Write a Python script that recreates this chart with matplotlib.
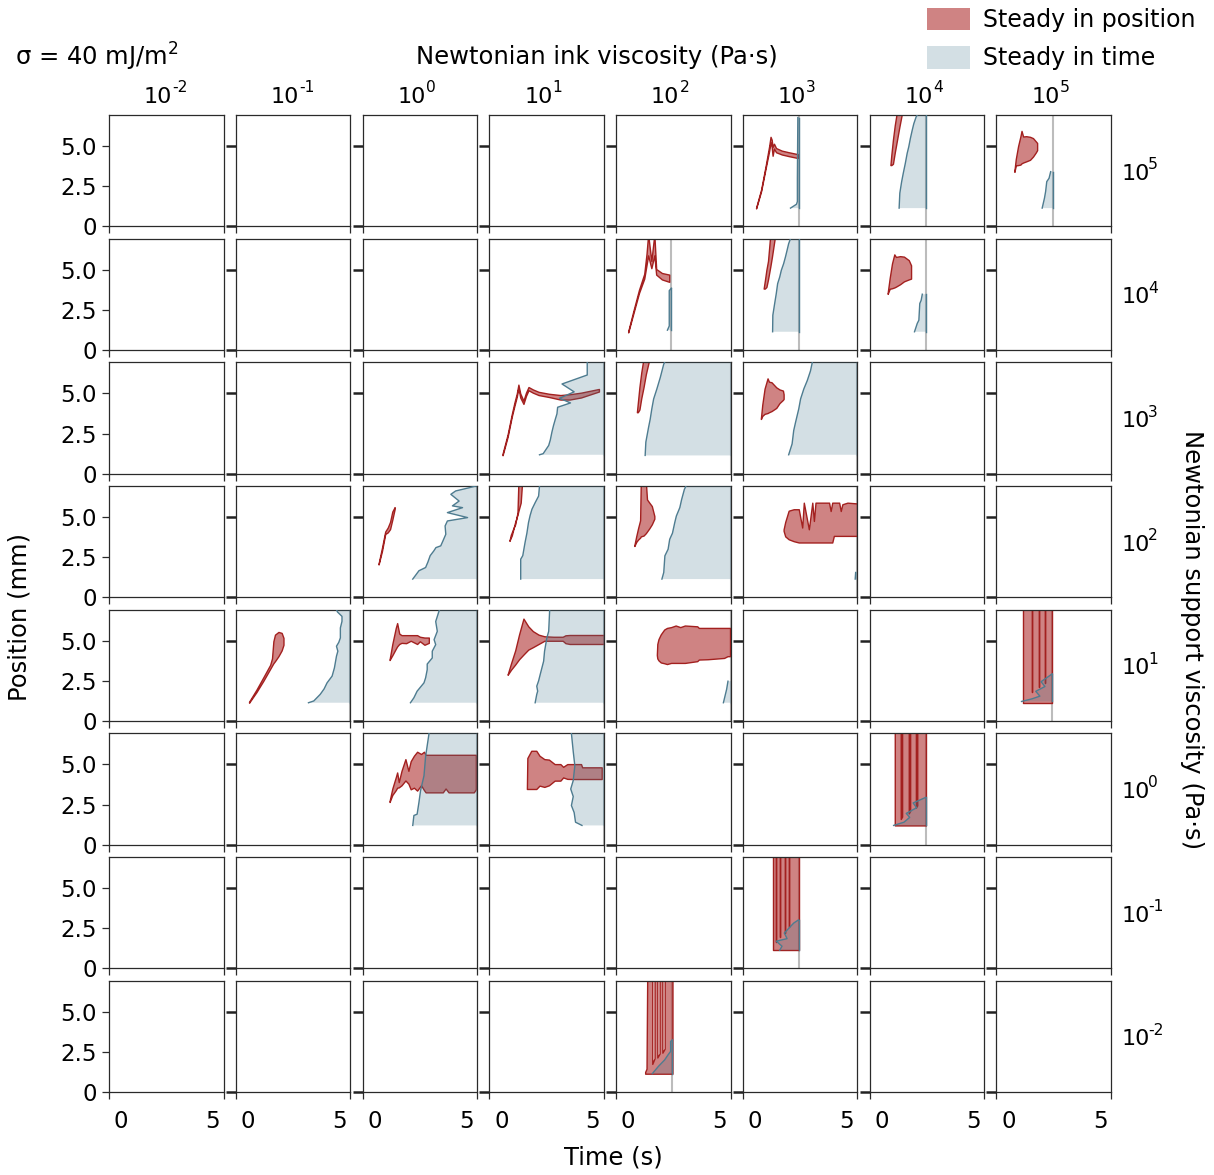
import numpy as np
import matplotlib
matplotlib.use('Agg')
import matplotlib.pyplot as plt
from matplotlib.patches import Rectangle
import matplotlib.transforms as mtransforms

plt.rcParams['font.family'] = ['DejaVu Sans']

# ---------------- axes / labels ----------------
ink_exponents = [-2, -1, 0, 1, 2, 3, 4, 5]          # columns
support_exponents = [5, 4, 3, 2, 1, 0, -1, -2]      # rows (top -> bottom)
x_ticks = [0, 5]
x_tick_labels = ['0', '5']
y_ticks = [0, 2.5, 5.0]
y_tick_labels = ['0', '2.5', '5.0']
y_max = 6.94
legend_labels = ['Steady in position', 'Steady in time']

# ---------------- data (support exponent s, ink exponent i) ----------------
# "Steady in position" regions: time, lower and upper position (mm)
pos_s5_i3_t = [0.58, 0.80, 1.00, 1.15, 1.21, 1.26, 1.30, 1.36, 1.45, 1.70, 2.00, 2.40]
pos_s5_i3_lo = [1.12, 2.20, 3.65, 4.70, 5.25, 4.95, 4.40, 4.85, 4.62, 4.48, 4.38, 4.26]
pos_s5_i3_hi = [1.16, 2.30, 3.80, 5.00, 5.58, 5.40, 4.95, 5.15, 4.88, 4.72, 4.62, 4.50]

pos_s5_i4_t = [0.91, 0.95, 1.02, 1.10, 1.20, 1.30, 1.40]
pos_s5_i4_lo = [3.82, 3.82, 3.90, 4.60, 5.40, 6.20, 6.94]
pos_s5_i4_hi = [3.82, 4.45, 5.40, 6.30, 7.20, 7.20, 7.20]

pos_s5_i5_t = [0.79, 0.85, 0.95, 1.05, 1.10, 1.17, 1.30, 1.47, 1.60, 1.72, 1.78]
pos_s5_i5_lo = [3.40, 3.80, 3.82, 3.85, 3.93, 3.98, 4.05, 4.15, 4.35, 4.60, 4.75]
pos_s5_i5_hi = [3.45, 4.20, 5.00, 5.60, 5.95, 5.60, 5.62, 5.58, 5.50, 5.30, 5.20]

pos_s4_i2_t = [0.53, 0.75, 1.00, 1.23, 1.33, 1.40, 1.54, 1.67, 1.75, 2.00, 2.32]
pos_s4_i2_lo = [1.10, 2.25, 3.55, 4.45, 5.30, 5.90, 5.10, 5.90, 4.70, 4.40, 4.25]
pos_s4_i2_hi = [1.16, 2.40, 3.75, 4.75, 6.00, 7.20, 5.55, 7.20, 5.05, 4.80, 4.70]

pos_s4_i3_t = [0.91, 0.96, 1.03, 1.10, 1.20, 1.27, 1.39]
pos_s4_i3_lo = [3.83, 3.83, 3.93, 4.40, 5.20, 5.80, 6.94]
pos_s4_i3_hi = [3.83, 4.30, 5.00, 5.55, 7.20, 7.20, 7.20]

pos_s4_i4_t = [0.79, 0.88, 0.98, 1.08, 1.15, 1.33, 1.50, 1.71, 1.81]
pos_s4_i4_lo = [3.50, 3.82, 3.85, 3.90, 3.95, 4.10, 4.28, 4.40, 4.45]
pos_s4_i4_hi = [3.55, 4.50, 5.40, 5.96, 5.80, 5.85, 5.82, 5.60, 5.28]

pos_s3_i1_t = [0.58, 0.80, 0.98, 1.10, 1.20, 1.27, 1.35, 1.49, 1.60, 1.71, 1.90, 2.15, 2.60, 3.10, 3.50, 4.00, 4.78]
pos_s3_i1_lo = [1.15, 2.30, 3.55, 4.25, 4.80, 5.35, 4.75, 4.35, 4.85, 5.20, 5.05, 4.90, 4.78, 4.62, 4.62, 4.75, 5.12]
pos_s3_i1_hi = [1.25, 2.45, 3.70, 4.45, 5.00, 5.55, 5.00, 4.55, 5.05, 5.40, 5.25, 5.10, 4.98, 4.90, 4.95, 5.05, 5.28]

pos_s3_i2_t = [0.91, 0.95, 1.02, 1.10, 1.20, 1.30, 1.42]
pos_s3_i2_lo = [3.83, 3.83, 4.00, 4.70, 5.40, 6.20, 6.94]
pos_s3_i2_hi = [3.83, 4.40, 5.40, 6.30, 7.20, 7.20, 7.20]

pos_s3_i3_t = [0.79, 0.85, 0.95, 1.08, 1.14, 1.25, 1.46, 1.60, 1.75, 1.78]
pos_s3_i3_lo = [3.41, 3.60, 3.73, 3.78, 3.83, 3.90, 4.10, 4.40, 4.60, 4.66]
pos_s3_i3_hi = [3.45, 4.30, 5.30, 5.94, 5.73, 5.70, 5.38, 5.25, 5.18, 4.95]

pos_s2_i0_t = [0.70, 0.85, 0.99, 1.10, 1.20, 1.30, 1.40]
pos_s2_i0_lo = [2.05, 2.90, 3.95, 4.05, 4.25, 4.85, 5.50]
pos_s2_i0_hi = [2.10, 3.10, 4.10, 4.35, 4.70, 5.35, 5.62]

pos_s2_i1_t = [0.88, 0.94, 0.98, 1.05, 1.13, 1.17, 1.23, 1.27, 1.37, 1.42]
pos_s2_i1_lo = [3.52, 3.73, 3.85, 4.25, 4.70, 4.87, 5.15, 5.38, 5.90, 6.94]
pos_s2_i1_hi = [3.52, 3.90, 4.04, 4.30, 4.55, 4.85, 5.28, 7.20, 7.20, 7.20]

pos_s2_i2_t = [0.80, 0.88, 0.96, 1.05, 1.08, 1.20, 1.30, 1.35, 1.45, 1.56, 1.67]
pos_s2_i2_lo = [3.20, 3.45, 3.60, 3.72, 3.80, 3.85, 4.00, 4.10, 4.30, 4.55, 4.90]
pos_s2_i2_hi = [3.25, 3.80, 4.30, 4.80, 7.20, 7.20, 7.20, 6.10, 5.90, 5.69, 5.07]

pos_s2_i3_t = [1.78, 1.85, 2.00, 2.22, 2.44, 2.59, 2.66, 2.88, 3.03, 3.10, 3.17, 3.39, 3.76, 3.83, 3.90, 3.97, 4.20, 4.27, 4.34, 4.56, 5.00]
pos_s2_i3_lo = [4.14, 3.80, 3.62, 3.50, 3.42, 3.42, 3.42, 3.42, 3.42, 3.42, 3.42, 3.42, 3.42, 3.42, 3.42, 3.83, 3.83, 3.83, 3.83, 3.83, 3.83]
pos_s2_i3_hi = [4.24, 4.70, 5.40, 5.49, 5.49, 4.35, 5.90, 4.24, 5.90, 4.76, 5.90, 5.90, 5.90, 5.38, 5.90, 5.90, 5.90, 5.38, 5.80, 5.90, 5.85]

pos_s1_im1_t = [0.58, 0.90, 1.20, 1.50, 1.58, 1.64, 1.71, 1.86, 2.00, 2.08]
pos_s1_im1_lo = [1.14, 1.80, 2.50, 3.25, 3.45, 3.60, 3.73, 4.04, 4.40, 4.75]
pos_s1_im1_hi = [1.20, 1.95, 2.72, 3.50, 3.90, 4.97, 5.38, 5.55, 5.49, 5.18]

pos_s1_i0_t = [1.18, 1.30, 1.45, 1.51, 1.60, 1.70, 1.90, 2.10, 2.38, 2.50, 2.70, 2.89]
pos_s1_i0_lo = [3.80, 4.10, 4.50, 4.65, 4.80, 4.87, 4.85, 5.00, 4.80, 4.97, 4.75, 4.87]
pos_s1_i0_hi = [3.83, 4.80, 5.80, 6.10, 5.45, 5.35, 5.35, 5.35, 5.35, 5.25, 5.20, 5.20]

pos_s1_i1_t = [0.80, 0.95, 1.13, 1.30, 1.49, 1.70, 1.90, 2.15, 2.40, 2.80, 3.20, 3.32, 3.50, 4.00, 4.50, 5.00]
pos_s1_i1_lo = [2.88, 3.20, 3.52, 3.85, 4.14, 4.45, 4.60, 4.80, 5.00, 5.00, 5.00, 4.85, 4.80, 4.80, 4.80, 4.80]
pos_s1_i1_hi = [2.90, 3.60, 4.40, 5.40, 6.38, 5.90, 5.60, 5.38, 5.28, 5.25, 5.25, 5.34, 5.36, 5.36, 5.36, 5.36]

pos_s1_i2_t = [1.78, 1.80, 1.85, 1.95, 2.10, 2.22, 2.40, 2.60, 2.80, 3.00, 3.54, 3.61, 4.00, 4.71, 4.86, 4.97]
pos_s1_i2_lo = [4.10, 3.90, 3.78, 3.65, 3.60, 3.55, 3.62, 3.62, 3.62, 3.62, 3.73, 3.83, 3.85, 3.93, 4.04, 4.04]
pos_s1_i2_hi = [4.14, 4.80, 5.10, 5.40, 5.70, 5.80, 5.85, 5.95, 5.85, 5.95, 5.90, 5.80, 5.80, 5.80, 5.80, 5.80]

pos_s1_i5_t = [1.17, 1.55, 1.55, 1.55, 1.86, 1.86, 1.86, 2.14, 2.14, 2.14, 2.44]
pos_s1_i5_lo = [1.14, 1.14, 1.14, 1.14, 1.14, 1.14, 1.14, 1.14, 1.14, 1.14, 1.14]
pos_s1_i5_hi = [7.20, 7.20, 1.80, 7.20, 7.20, 2.10, 7.20, 7.20, 2.36, 7.20, 7.20]

pos_s0_i0_t = [1.18, 1.30, 1.45, 1.51, 1.58, 1.70, 1.87, 2.00, 2.10, 2.24, 2.38, 2.55, 2.68, 2.75, 3.00, 3.50, 3.62, 3.75, 4.50, 4.85, 4.94]
pos_s0_i0_lo = [2.66, 3.10, 3.40, 3.55, 3.57, 3.70, 4.00, 3.80, 3.45, 3.55, 3.37, 3.70, 3.40, 3.26, 3.26, 3.26, 3.50, 3.26, 3.26, 3.26, 3.45]
pos_s0_i0_hi = [2.72, 3.50, 4.20, 4.50, 3.90, 4.60, 5.33, 4.60, 5.20, 5.54, 5.79, 5.65, 5.79, 5.60, 5.60, 5.60, 5.60, 5.60, 5.60, 5.60, 5.60]

pos_s0_i1_t = [1.64, 1.66, 1.83, 2.05, 2.19, 2.40, 2.60, 2.85, 3.10, 3.22, 3.40, 3.65, 4.00, 4.05, 4.90]
pos_s0_i1_lo = [3.47, 3.47, 3.47, 3.47, 3.68, 3.60, 3.70, 3.99, 3.99, 4.19, 4.10, 4.09, 4.09, 4.09, 4.09]
pos_s0_i1_hi = [3.47, 5.40, 5.85, 5.85, 5.54, 5.33, 5.30, 5.02, 5.02, 4.85, 5.02, 5.02, 5.02, 4.82, 4.82]

pos_s0_i4_t = [1.10, 1.36, 1.36, 1.42, 1.42, 1.71, 1.71, 1.77, 1.77, 2.02, 2.02, 2.08, 2.08, 2.46]
pos_s0_i4_lo = [1.20, 1.20, 1.20, 1.20, 1.20, 1.20, 1.20, 1.20, 1.20, 1.20, 1.20, 1.20, 1.20, 1.20]
pos_s0_i4_hi = [7.20, 7.20, 1.60, 1.75, 7.20, 7.20, 1.95, 2.10, 7.20, 7.20, 2.30, 2.45, 7.20, 7.20]

pos_sm1_i3_t = [1.30, 1.46, 1.46, 1.46, 1.64, 1.64, 1.64, 1.83, 1.83, 1.83, 2.02, 2.02, 2.02, 2.47]
pos_sm1_i3_lo = [1.14, 1.14, 1.14, 1.14, 1.14, 1.14, 1.14, 1.14, 1.14, 1.14, 1.14, 1.14, 1.14, 1.14]
pos_sm1_i3_hi = [7.20, 7.20, 1.65, 7.20, 7.20, 1.95, 7.20, 7.20, 2.20, 7.20, 7.20, 2.60, 7.20, 7.20]

pos_sm2_i2_t = [1.27, 1.33, 1.36, 1.58, 1.58, 1.68, 1.68, 1.80, 1.80, 1.90, 1.90, 2.02, 2.02, 2.12, 2.12, 2.46]
pos_sm2_i2_lo = [1.14, 1.14, 1.14, 1.14, 1.14, 1.14, 1.14, 1.14, 1.14, 1.14, 1.14, 1.14, 1.14, 1.14, 1.14, 1.14]
pos_sm2_i2_hi = [1.25, 1.45, 7.20, 7.20, 1.75, 2.10, 7.20, 7.20, 2.15, 2.40, 7.20, 7.20, 2.45, 2.70, 7.20, 7.20]

# "Steady in time" regions: position (mm) and left boundary time (s)
time_s5_i3_y = [1.14, 1.38, 1.55, 3.00, 6.78]
time_s5_i3_t = [2.08, 2.34, 2.38, 2.38, 2.40]
time_s5_i4_y = [1.14, 2.07, 2.79, 3.31, 3.93, 4.55, 4.96, 5.48, 5.99, 6.40, 6.82, 6.94]
time_s5_i4_t = [1.29, 1.32, 1.40, 1.47, 1.56, 1.64, 1.71, 1.78, 1.86, 1.93, 2.03, 2.08]
time_s5_i5_y = [1.14, 1.76, 2.17, 2.79, 3.00, 3.41]
time_s5_i5_t = [2.00, 2.10, 2.15, 2.20, 2.30, 2.37]
time_s4_i2_y = [1.24, 1.50, 3.70, 3.85]
time_s4_i2_t = [2.24, 2.32, 2.32, 2.41]
time_s4_i3_y = [1.14, 2.17, 2.90, 3.52, 4.14, 4.55, 4.97, 5.38, 5.80, 6.21, 6.63, 6.94]
time_s4_i3_t = [1.30, 1.31, 1.39, 1.46, 1.52, 1.61, 1.68, 1.78, 1.86, 1.93, 2.00, 2.08]
time_s4_i4_y = [1.14, 1.66, 1.86, 2.90, 3.10, 3.48]
time_s4_i4_t = [1.96, 2.08, 2.15, 2.19, 2.25, 2.30]
time_s3_i1_y = [1.18, 1.25, 1.76, 2.10, 2.59, 3.00, 3.40, 3.73, 4.14, 4.41, 4.70, 5.10, 5.59, 6.15, 6.94]
time_s3_i1_t = [2.19, 2.35, 2.59, 2.66, 2.73, 2.80, 2.88, 2.95, 2.98, 3.54, 3.06, 3.70, 3.17, 4.27, 4.27]
time_s3_i2_y = [1.14, 1.97, 2.90, 3.40, 4.04, 4.66, 5.28, 6.00, 6.83, 6.94]
time_s3_i2_t = [1.27, 1.30, 1.42, 1.49, 1.56, 1.64, 1.78, 1.93, 2.08, 2.12]
time_s3_i3_y = [1.18, 1.86, 2.69, 3.20, 4.04, 4.66, 5.28, 5.80, 6.40, 6.94]
time_s3_i3_t = [2.00, 2.15, 2.22, 2.30, 2.44, 2.52, 2.66, 2.81, 2.95, 3.03]
time_s2_i0_y = [1.14, 1.66, 1.86, 2.20, 2.60, 2.90, 3.10, 3.21, 3.50, 3.93, 4.45, 4.76, 4.97, 5.28, 5.59, 5.70, 6.00, 6.42, 6.63, 6.83, 6.94]
time_s2_i0_t = [2.19, 2.46, 2.75, 2.85, 2.95, 3.11, 3.20, 3.41, 3.50, 3.63, 3.60, 3.70, 4.58, 3.70, 4.36, 3.92, 4.21, 3.85, 4.06, 4.65, 4.94]
time_s2_i1_y = [1.14, 2.38, 2.60, 3.42, 4.00, 4.66, 5.10, 5.49, 5.90, 6.31, 6.94]
time_s2_i1_t = [1.37, 1.37, 1.46, 1.56, 1.64, 1.71, 1.78, 1.86, 2.00, 2.15, 2.19]
time_s2_i2_y = [1.14, 1.55, 2.59, 3.00, 3.62, 4.00, 4.66, 5.07, 5.59, 6.10, 6.73, 6.94]
time_s2_i2_t = [2.00, 2.08, 2.13, 2.27, 2.34, 2.46, 2.56, 2.63, 2.78, 2.86, 2.98, 3.05]
time_s2_i3_y = [1.14, 1.55]
time_s2_i3_t = [4.90, 4.92]
time_s1_im1_y = [1.14, 1.25, 1.66, 2.00, 2.38, 2.80, 3.31, 4.04, 4.35, 4.66, 4.90, 5.18, 5.80, 6.21, 6.52, 6.80, 6.94]
time_s1_im1_t = [3.17, 3.40, 3.68, 3.85, 3.98, 4.20, 4.30, 4.39, 4.45, 4.39, 4.49, 4.56, 4.56, 4.63, 4.63, 4.43, 4.39]
time_s1_i0_y = [1.14, 1.45, 1.86, 2.38, 2.69, 3.20, 3.55, 3.93, 4.35, 4.76, 5.07, 5.59, 6.20, 6.83, 6.94]
time_s1_i0_t = [2.09, 2.24, 2.38, 2.68, 2.75, 2.82, 2.82, 3.04, 3.04, 3.19, 3.12, 3.26, 3.19, 3.33, 3.36]
time_s1_i1_y = [1.14, 1.66, 1.86, 2.17, 2.50, 2.90, 3.73, 4.35, 5.18, 5.59, 6.83, 6.94]
time_s1_i1_t = [2.00, 2.07, 2.11, 2.07, 2.15, 2.22, 2.37, 2.41, 2.51, 2.59, 2.63, 2.63]
time_s1_i2_y = [1.14, 1.97, 2.48]
time_s1_i2_t = [4.68, 4.82, 4.88]
time_s1_i5_y = [1.22, 1.38, 1.55, 1.85, 2.15, 2.45, 2.94]
time_s1_i5_t = [1.10, 1.55, 1.90, 1.72, 2.12, 1.95, 2.44]
time_s0_i0_y = [1.20, 1.82, 1.90, 2.64, 3.37, 4.30, 5.50, 6.94]
time_s0_i0_t = [2.19, 2.24, 2.38, 2.46, 2.53, 2.68, 2.75, 2.90]
time_s0_i1_y = [1.20, 1.40, 2.00, 2.44, 3.00, 3.47, 4.00, 4.92, 5.80, 6.94]
time_s0_i1_t = [4.04, 3.76, 3.70, 3.58, 3.66, 3.55, 3.66, 3.73, 3.66, 3.58]
time_s0_i4_y = [1.20, 1.40, 1.70, 1.95, 2.30, 2.60, 2.94]
time_s0_i4_t = [1.05, 1.50, 1.75, 1.60, 2.05, 1.90, 2.44]
time_sm1_i3_y = [1.13, 1.38, 1.69, 1.85, 2.20, 2.82, 3.02]
time_sm1_i3_t = [1.61, 1.71, 1.46, 1.93, 1.81, 2.22, 2.43]
time_sm2_i2_y = [1.14, 1.60, 2.00, 2.32, 2.53, 3.15, 3.25]
time_sm2_i2_t = [1.58, 1.85, 2.12, 2.27, 2.38, 2.38, 2.46]

# end of simulated time for each populated panel
sim_end = {(5, 3): 2.47, (5, 4): 2.47, (5, 5): 2.47,
           (4, 2): 2.41, (4, 3): 2.47, (4, 4): 2.47,
           (3, 1): 5.0, (3, 2): 5.0, (3, 3): 5.0,
           (2, 0): 5.0, (2, 1): 5.0, (2, 2): 5.0, (2, 3): 5.0,
           (1, -1): 5.0, (1, 0): 5.0, (1, 1): 5.0, (1, 2): 5.0, (1, 5): 2.44,
           (0, 0): 5.0, (0, 1): 5.0, (0, 4): 2.46,
           (-1, 3): 2.47, (-2, 2): 2.46}

def _key(v):
    return ('m%d' % -v) if v < 0 else str(v)

position_regions = {}
time_regions = {}
for (s, i) in sim_end:
    name = 's%s_i%s' % (_key(s), _key(i))
    g = globals()
    if 'pos_%s_t' % name in g:
        position_regions[(s, i)] = (g['pos_%s_t' % name], g['pos_%s_lo' % name], g['pos_%s_hi' % name])
    if 'time_%s_y' % name in g:
        time_regions[(s, i)] = (g['time_%s_y' % name], g['time_%s_t' % name])

# ---------------- styling ----------------
red_face = (0.69, 0.19, 0.19, 0.60)
red_edge = '#a3201f'
blue_face = (0.29, 0.48, 0.56, 0.24)
blue_edge = '#4e7c90'
grey_line = '#bcbcbc'
spine_col = '#2a2a2a'

W, H = 1214, 1175
fig = plt.figure(figsize=(W / 100, H / 100), dpi=100)
gs = fig.add_gridspec(8, 8, left=109 / W, right=1111 / W, top=1 - 115 / H, bottom=1 - 1092 / H,
                      wspace=0.105, hspace=0.11)

tick_fs = 16.5
lab_fs = 17.5
leg_fs = 17
head_fs = 16

for r, s in enumerate(support_exponents):
    for c, i in enumerate(ink_exponents):
        ax = fig.add_subplot(gs[r, c])
        ax.set_xlim(0, 5)
        ax.set_ylim(0, y_max)
        for sp in ax.spines.values():
            sp.set_color(spine_col)
            sp.set_linewidth(0.9)
        key = (s, i)
        if key in sim_end:
            te = sim_end[key]
            ax.plot([te, te], [0, y_max], color=grey_line, lw=1.5, zorder=1, solid_capstyle='butt')
        if key in position_regions:
            t, lo, hi = position_regions[key]
            ax.fill_between(t, lo, hi, facecolor=red_face, edgecolor=red_edge, linewidth=1.0, zorder=2)
        if key in time_regions:
            yb, tb = time_regions[key]
            te = sim_end[key]
            ax.fill_betweenx(yb, tb, [te] * len(yb), facecolor=blue_face, edgecolor='none', zorder=3)
            ax.plot(tb, yb, color=blue_edge, lw=1.0, zorder=4)
            ax.plot([te, te], [yb[0], yb[-1]], color=blue_edge, lw=1.0, zorder=4)
        ax.set_xticks(x_ticks)
        ax.tick_params(axis='x', direction='out', length=5, width=0.9, color=spine_col, pad=8)
        if r == 7:
            ax.set_xticklabels(x_tick_labels, fontsize=tick_fs)
            labs = ax.get_xticklabels()
            labs[0].set_transform(labs[0].get_transform() + mtransforms.ScaledTranslation(0.12, 0, fig.dpi_scale_trans))
            labs[1].set_transform(labs[1].get_transform() + mtransforms.ScaledTranslation(-0.11, 0, fig.dpi_scale_trans))
        else:
            ax.set_xticklabels([])
        if c == 0:
            ax.set_yticks(y_ticks)
            ax.set_yticklabels(y_tick_labels, fontsize=tick_fs)
            ax.tick_params(axis='y', direction='out', length=5, width=0.9, color=spine_col, pad=4)
        else:
            ax.set_yticks([0, 5.0])
            ax.set_yticklabels([])
            ax.tick_params(axis='y', direction='out', length=7, width=1.8, color='#222222')
        if r == 0:
            # column header: 10 with superscript exponent (hyphen style)
            ax.annotate('10', xy=(0.5, 1.0), xycoords='axes fraction', xytext=(6, 18),
                        textcoords='offset pixels', ha='right', va='center', fontsize=head_fs,
                        annotation_clip=False)
            ax.annotate('%d' % i, xy=(0.5, 1.0), xycoords='axes fraction', xytext=(6, 27),
                        textcoords='offset pixels', ha='left', va='center', fontsize=head_fs * 0.7,
                        annotation_clip=False)
        if c == 7:
            ax.annotate('10', xy=(1.0, 0.5), xycoords='axes fraction', xytext=(11, -3),
                        textcoords='offset pixels', ha='left', va='center', fontsize=head_fs,
                        annotation_clip=False)
            ax.annotate('%d' % s, xy=(1.0, 0.5), xycoords='axes fraction', xytext=(37, 6),
                        textcoords='offset pixels', ha='left', va='center', fontsize=head_fs * 0.7,
                        annotation_clip=False)

# ---------------- figure texts ----------------
fig.text(15 / W, 1 - 57 / H, 'σ = 40 mJ/m$^2$', ha='left', va='center', fontsize=lab_fs)
fig.text(597 / W, 1 - 57 / H, 'Newtonian ink viscosity (Pa·s)', ha='center', va='center', fontsize=lab_fs)
fig.text(20 / W, 1 - 617 / H, 'Position (mm)', ha='center', va='center', rotation=90, fontsize=lab_fs)
fig.text(613 / W, 1 - 1158 / H, 'Time (s)', ha='center', va='center', fontsize=lab_fs)
fig.text(1192 / W, 1 - 640 / H, 'Newtonian support viscosity (Pa·s)', ha='center', va='center',
         rotation=-90, fontsize=lab_fs)

# legend (manual)
fig.add_artist(Rectangle((927 / W, 1 - 30 / H), 43 / W, 22 / H, transform=fig.transFigure,
                         facecolor=red_face, edgecolor='none'))
fig.add_artist(Rectangle((927 / W, 1 - 69 / H), 43 / W, 23 / H, transform=fig.transFigure,
                         facecolor=blue_face, edgecolor='none'))
fig.text(983 / W, 1 - 20 / H, legend_labels[0], ha='left', va='center', fontsize=leg_fs)
fig.text(983 / W, 1 - 58 / H, legend_labels[1], ha='left', va='center', fontsize=leg_fs)

fig.savefig('out.png', dpi=100)
